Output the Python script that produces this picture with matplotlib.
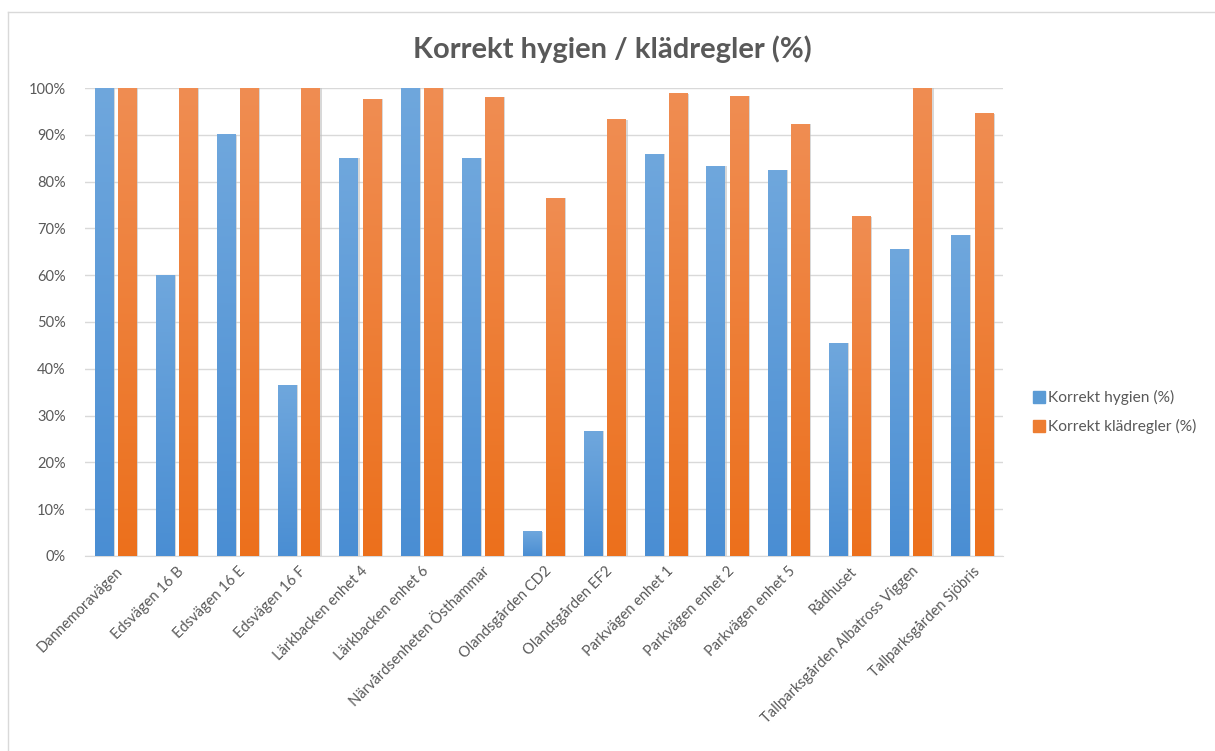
import numpy as np
import matplotlib
matplotlib.use("Agg")
import matplotlib.pyplot as plt
from matplotlib.colors import LinearSegmentedColormap
from matplotlib.patches import Rectangle
from matplotlib.lines import Line2D
from matplotlib.ticker import PercentFormatter

categories = ["Dannemoravägen", "Edsvägen 16 B", "Edsvägen 16 E", "Edsvägen 16 F",
              "Lärkbacken enhet 4", "Lärkbacken enhet 6", "Närvårdsenheten Östhammar",
              "Olandsgården CD2", "Olandsgården EF2", "Parkvägen enhet 1",
              "Parkvägen enhet 2", "Parkvägen enhet 5", "Rådhuset",
              "Tallparksgården Albatross Viggen", "Tallparksgården Sjöbris"]
hygien = [100, 60, 90, 36.5, 85, 100, 85, 5.2, 26.6, 85.8, 83.3, 82.4, 45.5, 65.5, 68.5]
kladregler = [100, 100, 100, 100, 97.6, 100, 98.0, 76.5, 93.2, 98.8, 98.2, 92.3, 72.5, 100, 94.5]
series_names = ["Korrekt hygien (%)", "Korrekt klädregler (%)"]
title = "Korrekt hygien / klädregler (%)"

plt.rcParams['font.family'] = ['Lato', 'DejaVu Sans']
GRAY = '#595959'

fig = plt.figure(figsize=(12.15, 7.51), dpi=100)
ax = fig.add_axes([0.070, 0.2597, 0.7555, 0.6231])

x = np.arange(len(categories))
w = 0.31
off = 0.19

blue_cmap = LinearSegmentedColormap.from_list('b', ['#4A8ED3', '#6FA7DD'])
orange_cmap = LinearSegmentedColormap.from_list('o', ['#EC701C', '#F08D52'])

grad = np.linspace(0, 1, 256).reshape(-1, 1)
for vals, dx, base, cmap in [(hygien, -off, '#5B9BD5', blue_cmap),
                             (kladregler, off, '#ED7D31', orange_cmap)]:
    bars = ax.bar(x + dx, np.array(vals) / 100.0, width=w, color=base,
                  zorder=3, clip_on=False, linewidth=0)
    for b in bars:
        x0, y0, bw, bh = b.get_x(), b.get_y(), b.get_width(), b.get_height()
        ax.add_patch(Rectangle((x0 + bw, y0), 0.02, bh, color='#BFBFBF',
                               alpha=0.6, zorder=2, clip_on=False, linewidth=0))
        im = ax.imshow(grad, cmap=cmap, aspect='auto', origin='lower',
                       extent=(x0, x0 + bw, y0, y0 + bh), zorder=4,
                       interpolation='bilinear', clip_on=False)
        im.set_clip_path(b)

ax.set_xlim(-0.5, len(categories) - 0.5)
ax.set_ylim(0, 1.0)
ax.set_yticks(np.arange(0, 1.01, 0.1))
ax.yaxis.set_major_formatter(PercentFormatter(1.0, decimals=0))
ax.grid(axis='y', color='#D9D9D9', linewidth=1, zorder=0)
ax.set_axisbelow(True)
for s in ['top', 'right', 'left']:
    ax.spines[s].set_visible(False)
ax.spines['bottom'].set_color('#D9D9D9')
ax.tick_params(axis='both', length=0, colors=GRAY, labelsize=10.5)
ax.tick_params(axis='y', pad=14)
ax.set_xticks(x)
ax.set_xticklabels(categories, rotation=45, ha='right', rotation_mode='anchor')
ax.tick_params(axis='x', pad=6)

fig.text(0.504, 0.935, title, ha='center', va='center', fontsize=21,
         fontweight='bold', color=GRAY)

handles = [Line2D([], [], marker='s', linestyle='', markersize=8,
                  markerfacecolor=c, markeredgecolor=c)
           for c in ['#5B9BD5', '#ED7D31']]
leg = fig.legend(handles, series_names, loc='center left',
                 bbox_to_anchor=(0.840, 0.451), frameon=False,
                 fontsize=11.2, handlelength=0.6, handletextpad=0.25,
                 labelspacing=0.9, labelcolor=GRAY)

# chart border (top and left edges visible)
fig.add_artist(Line2D([0.0066, 1.0], [0.984, 0.984], color='#D9D9D9',
                      linewidth=1, transform=fig.transFigure))
fig.add_artist(Line2D([0.0066, 0.0066], [0.0, 0.984], color='#D9D9D9',
                      linewidth=1, transform=fig.transFigure))

fig.savefig('out.png', dpi=100, facecolor='white')
